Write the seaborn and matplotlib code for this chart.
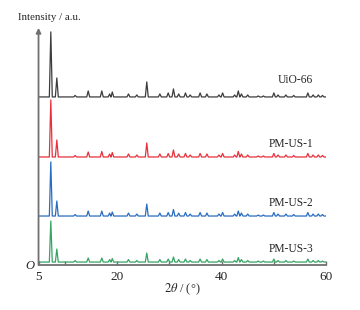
import numpy as np
import pandas as pd
import seaborn as sns
import matplotlib
matplotlib.use("Agg")
import matplotlib.pyplot as plt

# peak positions (2theta, deg)
peaks = [7.35, 8.5, 12.0, 14.5, 17.1, 18.6, 19.1, 22.2, 23.8, 25.7, 28.2, 29.8,
         30.8, 31.8, 33.1, 34.0, 35.9, 37.2, 39.5, 40.2, 42.5, 43.2, 43.8, 45.0,
         47.0, 48.0, 50.0, 50.8, 52.3, 53.8, 56.5, 57.5, 58.5, 59.3]

# peak heights per sample (a.u.)
h_uio66 = [65, 19, 1.5, 6, 6, 3, 5, 3, 2, 15, 3, 4,
           8, 3, 4, 2, 4, 3, 2, 4, 2, 6, 3, 2,
           1, 1, 4, 2, 2, 1.5, 4, 2, 2, 1.5]
h_pm1 = [57, 17, 1.5, 5, 5.5, 3, 4.5, 3, 2, 14, 3, 3.5,
         7, 3, 3.5, 2, 3.5, 3, 2, 3.5, 2, 5.5, 3, 2,
         1, 1, 3.5, 2, 2, 1.5, 3.5, 2, 2, 1.5]
h_pm2 = [54, 15, 1.5, 5, 5, 3, 4, 3, 2, 12, 3, 3.5,
         6.5, 3, 3.5, 2, 3.5, 3, 2, 3.5, 2, 5, 3, 2,
         1, 1, 3.5, 2, 2, 1.5, 3.5, 2, 2, 1.5]
h_pm3 = [41, 13, 1.5, 4, 4, 2.5, 3.5, 2.5, 1.5, 9, 2.5, 3,
         5, 2.5, 3, 1.5, 3, 2.5, 1.5, 3, 1.5, 4.5, 2.5, 1.5,
         1, 1, 3, 1.5, 1.5, 1, 3, 1.5, 1.5, 1]

samples = ["UiO-66", "PM-US-1", "PM-US-2", "PM-US-3"]
heights = [h_uio66, h_pm1, h_pm2, h_pm3]
offsets = [168, 108, 49, 3]
colors = ["#3c3c3c", "#e8303a", "#2a6cc0", "#35a463"]

rows = []
for name, hs, off in zip(samples, heights, offsets):
    pts = [(5.0, off), (60.0, off)]
    for p, h in zip(peaks, hs):
        pts += [(p - 0.28, off), (p, off + h), (p + 0.28, off)]
    pts.sort()
    for x, y in pts:
        rows.append({"sample": name, "two_theta": x, "intensity": y})
df = pd.DataFrame(rows)

sns.set_style("ticks")
plt.rcParams["font.family"] = ["Liberation Serif", "DejaVu Serif"]
plt.rcParams["mathtext.fontset"] = "stix"

fig = plt.figure(figsize=(3.6, 3.1), dpi=100)
ax = fig.add_axes([0.107, 0.145, 0.799, 0.765])
for name, c in zip(samples, colors):
    sns.lineplot(data=df[df["sample"] == name], x="two_theta", y="intensity",
                 color=c, linewidth=0.9, sort=False, ax=ax, legend=False)

ax.set_xlim(5, 60)
ax.set_ylim(0, 237)
ax.set_xticks([5, 20, 40, 60])
ax.set_xticks([10, 30, 50], minor=True)
ax.set_yticks([])
ax.tick_params(axis="x", which="both", direction="in", length=3, width=1,
               color="#707070", labelsize=9.5, pad=4)
for s in ["top", "right", "left"]:
    ax.spines[s].set_visible(False)
ax.spines["bottom"].set_color("#707070")
ax.spines["bottom"].set_linewidth(1.3)
ax.annotate("", xy=(0, 1.0), xytext=(0, 0), xycoords="axes fraction",
            arrowprops=dict(arrowstyle="-|>", color="#707070", lw=1.3,
                            mutation_scale=7, shrinkA=0, shrinkB=0))
ax.set_xlabel(r"$2\theta$ / (°)", fontsize=9, labelpad=-1)
ax.set_ylabel("")

label_y = [80, 144, 203, 249]
for name, ly in zip(samples, label_y):
    fig.text(313 / 360, 1 - ly / 310, name, ha="right", va="center", fontsize=8.3)
fig.text(18 / 360, 1 - 18 / 310, "Intensity / a.u.", ha="left", va="center", fontsize=7.8)
fig.text(30 / 360, 1 - 266 / 310, "O", ha="center", va="center", fontsize=9,
         fontstyle="italic")

fig.savefig("out.png", dpi=100)
